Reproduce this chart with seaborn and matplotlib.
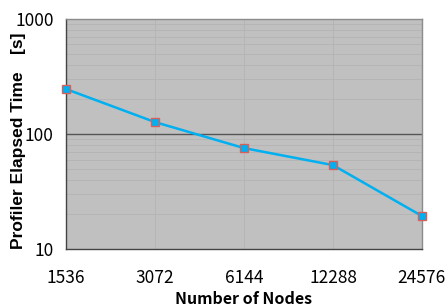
import matplotlib
matplotlib.use("Agg")
import matplotlib.pyplot as plt
import seaborn as sns
import pandas as pd
from matplotlib.ticker import LogLocator, NullFormatter

# Data
nodes = [1536, 3072, 6144, 12288, 24576]
elapsed = [246, 127, 75.5, 53.7, 19.4]

df = pd.DataFrame({"Nodes": nodes, "Elapsed": elapsed})

sns.set_theme(style="white")
plt.rcParams['font.family'] = ['Noto Sans CJK JP', 'DejaVu Sans']
plt.rcParams['text.color'] = 'black'
plt.rcParams['xtick.color'] = 'black'
plt.rcParams['ytick.color'] = 'black'
plt.rcParams['axes.labelcolor'] = 'black'

fig = plt.figure(figsize=(4.46, 3.06), dpi=100)
ax = fig.add_axes([0.148, 0.186, 0.798, 0.752])
ax.set_facecolor("#c0c0c0")

ax.set_xscale("log", base=2)
ax.set_yscale("log")

sns.lineplot(data=df, x="Nodes", y="Elapsed", ax=ax, color="#00b0f0",
             linewidth=1.8, marker="s", markersize=6,
             markerfacecolor="#00b0f0", markeredgecolor="#d9605a",
             markeredgewidth=1.0, zorder=5, clip_on=False)

ax.set_xlim(nodes[0], nodes[-1])
ax.set_ylim(10, 1000)

ax.set_xticks(nodes)
ax.set_xticklabels([str(n) for n in nodes], fontsize=12.5)
ax.xaxis.set_minor_formatter(NullFormatter())
ax.tick_params(axis="x", which="minor", length=0)
ax.tick_params(axis="x", which="major", direction="in", length=4,
               color="#555555", pad=14)

ax.set_yticks([10, 100, 1000])
ax.set_yticklabels(["10", "100", "1000"], fontsize=12.5)
ax.yaxis.set_minor_locator(LogLocator(base=10, subs=range(2, 10)))
ax.yaxis.set_minor_formatter(NullFormatter())
ax.tick_params(axis="y", which="both", length=0, pad=9)

# grid
ax.grid(True, which="minor", axis="y", color="#b3b3b3", linewidth=0.6)
ax.grid(True, which="major", axis="x", color="#b3b3b3", linewidth=0.6)
ax.axhline(100, color="#555555", linewidth=1.0, zorder=2)

for side in ["left", "bottom"]:
    ax.spines[side].set_color("#444444")
    ax.spines[side].set_linewidth(1.0)
for side in ["top", "right"]:
    ax.spines[side].set_color("#8c8c8c")
    ax.spines[side].set_linewidth(1.0)

ax.set_xlabel("Number of Nodes", fontsize=11.5, fontweight="bold", labelpad=3)
ax.set_ylabel("Profiler Elapsed Time\u2003[s]", fontsize=12.5, fontweight="bold",
              family=["Liberation Sans", "DejaVu Sans"])
ax.yaxis.set_label_coords(-0.112, 0.47)

fig.savefig("out.png", dpi=100)
